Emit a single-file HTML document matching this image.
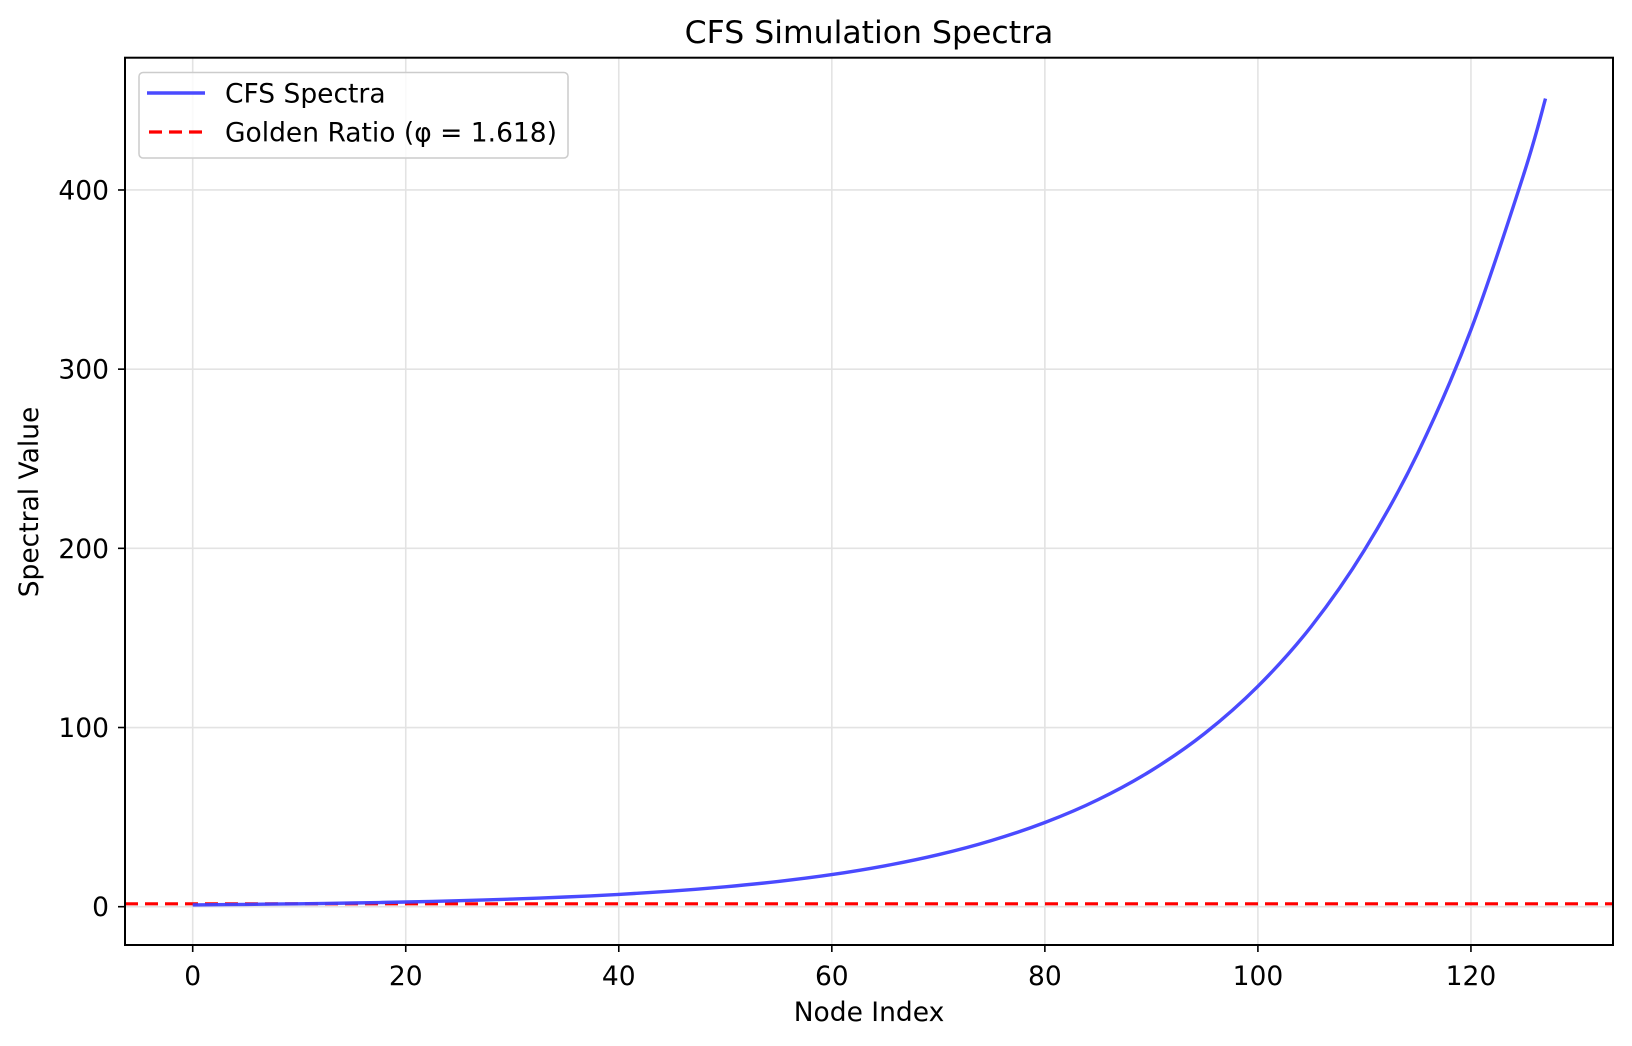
<!DOCTYPE html>
<html><head><meta charset="utf-8"><style>
html,body{margin:0;padding:0;background:#fff}
svg{display:block;font-family:"DejaVu Sans","Liberation Sans",sans-serif}
</style></head><body>
<svg id="chart" width="1632" height="1046" viewBox="0 0 1632 1046">
<g id="grid"></g>
<g id="plot"></g>
<rect x="125" y="57.7" width="1488" height="887.3" fill="none" stroke="#000" stroke-width="2"/>
<g id="ticks"></g>
<text x="869" y="43" font-size="31.5" text-anchor="middle">CFS Simulation Spectra</text>
<text x="869" y="1021" font-size="26.5" text-anchor="middle">Node Index</text>
<text x="38" y="502" font-size="26.5" text-anchor="middle" transform="rotate(-90 38 502)">Spectral Value</text>
<g>
<rect x="139" y="72.5" width="429" height="85.5" rx="4" fill="#fff" fill-opacity="0.8" stroke="#ccc" stroke-width="1.5"/>
<line x1="147" y1="93" x2="205" y2="93" stroke="#4040ff" stroke-opacity="0.95" stroke-width="3.4"/>
<text x="225" y="102.5" font-size="26.5">CFS Spectra</text>
<line x1="149" y1="132" x2="205" y2="132" stroke="#ff0000" stroke-width="3.2" stroke-dasharray="13,7"/>
<text x="225" y="141.5" font-size="26.5">Golden Ratio (φ = 1.618)</text>
</g>
</svg>
<script>
const nodeIdx = [0,5,10,15,20,25,30,35,40,45,50,55,60,65,70,75,80,85,90,95,100,105,110,115,120,125,127];
const spectra = [1.0,1.27,1.62,2.06,2.62,3.33,4.24,5.39,6.85,8.72,11.09,14.11,17.94,22.82,29.03,36.93,46.98,59.75,76.01,96.68,123.0,156.4,199.0,253.1,321.9,409.6,451];
const goldenRatio = 1.618;
const xTicks = [0,20,40,60,80,100,120];
const yTicks = [0,100,200,300,400];

const NS='http://www.w3.org/2000/svg';
const X = v => 192.7 + v*10.652;
const Y = v => 906.7 - v*1.7918;
function mk(tag, attrs, parent){const e=document.createElementNS(NS,tag);for(const k in attrs)e.setAttribute(k,attrs[k]);parent.appendChild(e);return e;}
const grid=document.getElementById('grid'), plot=document.getElementById('plot'), ticks=document.getElementById('ticks');
xTicks.forEach(t=>{
  const g=mk('line',{x1:X(t),x2:X(t),y1:57.7,y2:945,stroke:'#e3e3e3','stroke-width':1.6},grid);
  
  
  const tk=mk('line',{x1:X(t),x2:X(t),y1:945,y2:952,stroke:'#000','stroke-width':1.6},ticks);
  
  
  const tl=mk('text',{x:X(t),y:985,'font-size':26.5,'text-anchor':'middle'},ticks);
  tl.textContent=t;
  
  
});
yTicks.forEach(t=>{
  const g=mk('line',{x1:125,x2:1613,y1:Y(t),y2:Y(t),stroke:'#e3e3e3','stroke-width':1.6},grid);
  
  
  const tk=mk('line',{x1:118,x2:125,y1:Y(t),y2:Y(t),stroke:'#000','stroke-width':1.6},ticks);
  
  
  const tl=mk('text',{x:109,y:Y(t)+9.5,'font-size':26.5,'text-anchor':'end'},ticks);
  tl.textContent=t;
  
  
});
const gl=mk('line',{x1:125,x2:1613,y1:Y(goldenRatio),y2:Y(goldenRatio),stroke:'#ff0000','stroke-width':3.2,'stroke-dasharray':'13,7'},plot);


// smooth Catmull-Rom path through data points
const pts=nodeIdx.map((n,i)=>[X(n),Y(spectra[i])]);
let d='M'+pts[0][0].toFixed(1)+','+pts[0][1].toFixed(1);
for(let i=0;i<pts.length-1;i++){
  const p0=pts[i-1]||pts[i], p1=pts[i], p2=pts[i+1], p3=pts[i+2]||p2;
  const c1=[p1[0]+(p2[0]-p0[0])/6, p1[1]+(p2[1]-p0[1])/6];
  const c2=[p2[0]-(p3[0]-p1[0])/6, p2[1]-(p3[1]-p1[1])/6];
  d+='C'+c1[0].toFixed(1)+','+c1[1].toFixed(1)+' '+c2[0].toFixed(1)+','+c2[1].toFixed(1)+' '+p2[0].toFixed(1)+','+p2[1].toFixed(1);
}
const p=mk('path',{d:d,fill:'none',stroke:'#4040ff','stroke-opacity':0.95,'stroke-width':3.4,'stroke-linejoin':'round'},plot);


</script>
</body></html>
